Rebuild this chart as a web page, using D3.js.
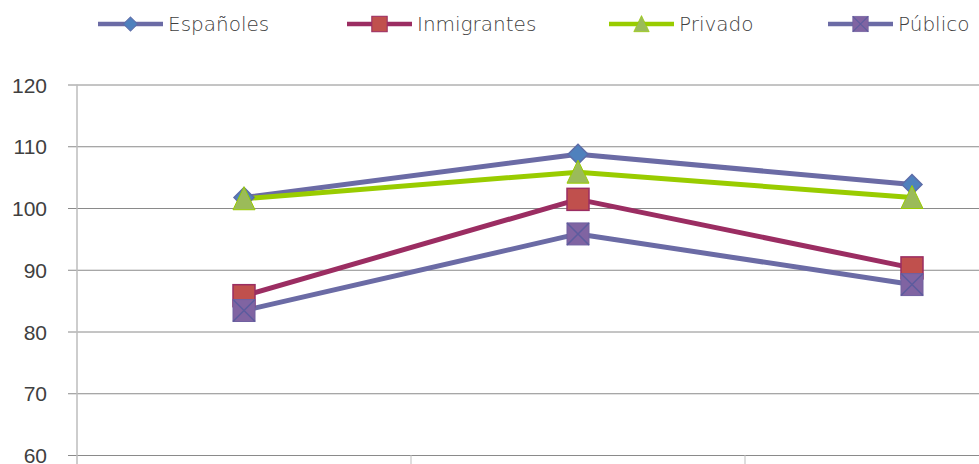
<!DOCTYPE html>
<html>
<head>
<meta charset="utf-8">
<script src="https://cdn.jsdelivr.net/npm/d3@7"></script>
<style>
  body { margin: 0; background: #fff; }
  svg { display: block; font-family: "DejaVu Sans", sans-serif; }
</style>
</head>
<body>
<svg width="979" height="464"></svg>
<script>
var categories = ["A", "B", "C"];
var yTicks = [60, 70, 80, 90, 100, 110, 120];

var espanoles   = [101.7, 108.7, 103.8];
var inmigrantes = [85.8, 101.4, 90.3];
var privado     = [101.5, 105.8, 101.7];
var publico     = [83.4, 95.8, 87.6];

var series = [
    { name: "Españoles",   values: espanoles,   line: "#6B6BA5", fill: "#4F81BD", stroke: "#5D6CA8", shape: "diamond" },
    { name: "Inmigrantes", values: inmigrantes, line: "#9B2D62", fill: "#C0504D", stroke: "#9B2D62", shape: "square" },
    { name: "Privado",     values: privado,     line: "#99CC00", fill: "#9BBB59", stroke: "#99CC00", shape: "triangle" },
    { name: "Público",     values: publico,     line: "#6B6BA5", fill: "#8064A2", stroke: "#7060A0", shape: "cross" }
];

var svg = d3.select("svg");

// plot runs past the right edge (the picture is cropped)
var x = d3.scaleBand().domain(categories).range([77, 1079]);
var y = d3.scaleLinear().domain([60, 120]).range([455, 84.5]);

// gridlines
svg.append("g")
    .attr("transform", "translate(77,0)")
    .call(d3.axisLeft(y).tickValues(yTicks).tickSize(-1000).tickFormat(""))
    .call(function(g) {
        g.select(".domain").remove();
        g.selectAll("line").attr("stroke", "#8a8a8a").attr("stroke-width", 1);
    });

// tick marks + labels
svg.append("g")
    .attr("transform", "translate(77,0)")
    .call(d3.axisLeft(y).tickValues(yTicks).tickSize(9).tickPadding(21))
    .call(function(g) {
        g.select(".domain").remove();
        g.selectAll("line").attr("stroke", "#8a8a8a");
        g.selectAll("text")
            .attr("fill", "#404040")
            .style("font-size", "21px")
            .style("font-weight", 200)
            .attr("dy", "0.36em");
    });

// y axis line
svg.append("line")
    .attr("x1", 77).attr("x2", 77)
    .attr("y1", y(120)).attr("y2", 464)
    .attr("stroke", "#bdbdbd").attr("stroke-width", 1.5);

// x axis ticks between categories
svg.append("g")
    .selectAll("line")
    .data(categories)
    .enter().append("line")
    .attr("x1", function(d) { return x(d) + x.bandwidth(); })
    .attr("x2", function(d) { return x(d) + x.bandwidth(); })
    .attr("y1", y(60)).attr("y2", 464)
    .attr("stroke", "#bdbdbd");

var line = d3.line()
    .x(function(d, i) { return x(categories[i]) + x.bandwidth() / 2; })
    .y(function(d) { return y(d); });

function drawMarker(g, shape, s, cx, cy) {
    if (shape === "diamond") {
        g.append("path")
            .attr("d", "M" + cx + "," + (cy - 10) + "L" + (cx + 10) + "," + cy + "L" + cx + "," + (cy + 10) + "L" + (cx - 10) + "," + cy + "Z")
            .attr("fill", s.fill).attr("stroke", s.stroke).attr("stroke-width", 1.5);
    } else if (shape === "square") {
        g.append("rect")
            .attr("x", cx - 11).attr("y", cy - 11).attr("width", 22).attr("height", 22)
            .attr("fill", s.fill).attr("stroke", s.stroke).attr("stroke-width", 1.5);
    } else if (shape === "triangle") {
        g.append("path")
            .attr("d", "M" + cx + "," + (cy - 12) + "L" + (cx + 11) + "," + (cy + 11) + "L" + (cx - 11) + "," + (cy + 11) + "Z")
            .attr("fill", s.fill).attr("stroke", s.stroke).attr("stroke-width", 1);
    } else {
        g.append("rect")
            .attr("x", cx - 11).attr("y", cy - 11).attr("width", 22).attr("height", 22)
            .attr("fill", s.fill).attr("stroke", s.stroke).attr("stroke-width", 1);
        g.append("path")
            .attr("d", "M" + (cx - 11) + "," + (cy - 11) + "L" + (cx + 11) + "," + (cy + 11) + "M" + (cx + 11) + "," + (cy - 11) + "L" + (cx - 11) + "," + (cy + 11))
            .attr("stroke", "#5C5C9E").attr("stroke-width", 1.5);
    }
}

var plot = svg.append("g");

series.forEach(function(s) {
    plot.append("path")
        .datum(s.values)
        .attr("d", line)
        .attr("fill", "none")
        .attr("stroke", s.line)
        .attr("stroke-width", 5)
        .attr("stroke-linejoin", "round");
});

series.forEach(function(s) {
    var g = plot.append("g");
    s.values.forEach(function(v, i) {
        drawMarker(g, s.shape, s, x(categories[i]) + x.bandwidth() / 2, y(v));
    });
});

// legend
var legendX = [98, 347, 609, 828];
var legend = svg.append("g");
series.forEach(function(s, i) {
    var g = legend.append("g").attr("transform", "translate(" + legendX[i] + ",24)");
    g.append("line")
        .attr("x1", 0).attr("x2", 65).attr("y1", 0).attr("y2", 0)
        .attr("stroke", s.line).attr("stroke-width", 4.5);
    var mg = g.append("g").attr("transform", "translate(32.5,0) scale(0.7)");
    drawMarker(mg, s.shape, s, 0, 0);
    g.append("text")
        .attr("x", 70).attr("y", 0).attr("dy", "0.35em")
        .attr("fill", "#404040")
        .style("font-size", "20px")
        .style("font-weight", 200)
        .text(s.name);
});
</script>
</body>
</html>
